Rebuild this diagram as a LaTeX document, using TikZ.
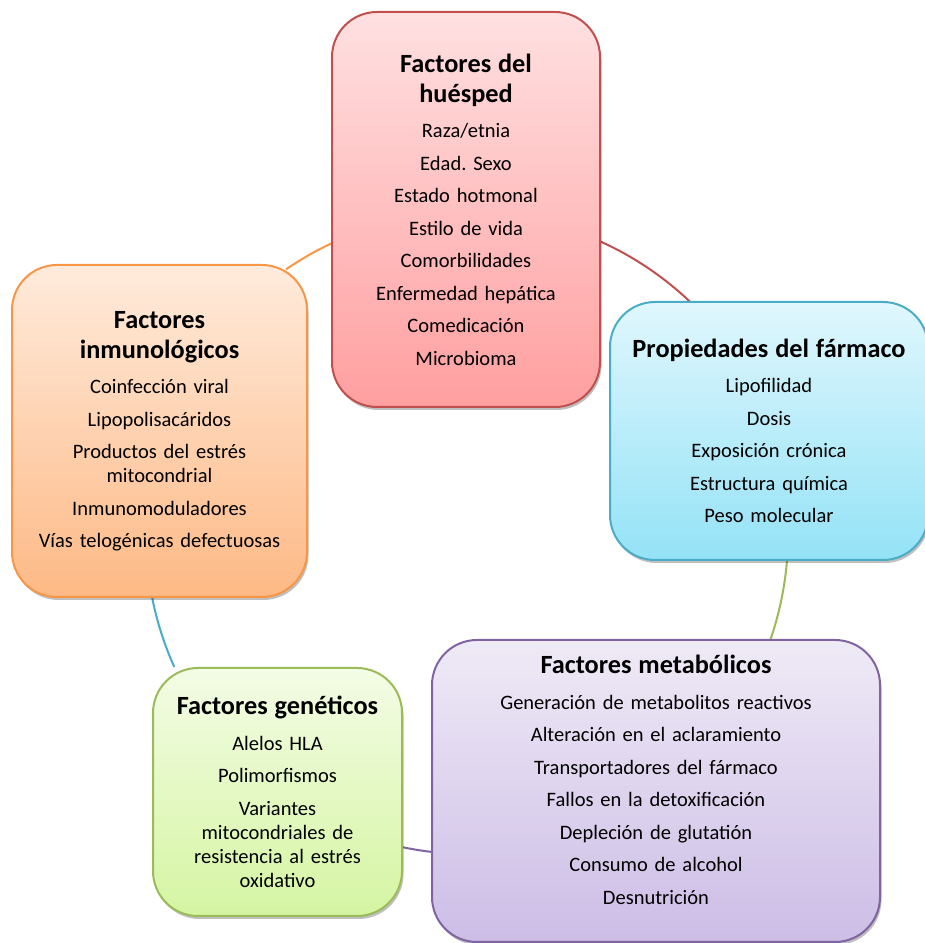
\documentclass[tikz,border=0pt]{standalone}
\usepackage{fontspec}
\setmainfont{Carlito}
\usetikzlibrary{shadows,calc}
\frenchspacing
\definecolor{redB}{HTML}{C0504D}\definecolor{redT}{HTML}{FFE0E1}\definecolor{redD}{HTML}{FF9FA0}
\definecolor{bluB}{HTML}{4BACC6}\definecolor{bluT}{HTML}{E0F7FD}\definecolor{bluD}{HTML}{94E2F6}
\definecolor{purB}{HTML}{8064A2}\definecolor{purT}{HTML}{EFEAF6}\definecolor{purD}{HTML}{CCBDE6}
\definecolor{grnB}{HTML}{9BBB59}\definecolor{grnT}{HTML}{F3FCE5}\definecolor{grnD}{HTML}{D5F5A2}
\definecolor{orgB}{HTML}{F79646}\definecolor{orgT}{HTML}{FFEBDC}\definecolor{orgD}{HTML}{FDB985}
\newcommand{\myboxtitle}[1]{{\fontsize{26.3}{30}\selectfont\bfseries #1\par}\vspace{11.5pt}}
\newcommand{\myitemgap}{\\[8.5pt]}
\tikzset{
  box/.style n args={2}{draw=#1B, line width=2pt, rounded corners=45pt, top color=#1T, bottom color=#1D,
    align=center, inner sep=0pt, text width=#2, font=\fontsize{20.5}{24}\selectfont,
    drop shadow={shadow xshift=1.5pt, shadow yshift=-3pt, opacity=0.25, fill=black}},
  link/.style={line width=2pt}
}
\begin{document}
\begin{tikzpicture}[x=1pt,y=1pt]
\useasboundingbox (0,0) rectangle (925,943);
\coordinate (ctr) at (468,408);
% connectors
\coordinate (a1) at ($(ctr)+(124.4:322)$);
\coordinate (a2) at ($(ctr)+(65.9:322)$);
\coordinate (a3) at ($(ctr)+(-4.7:320)$);
\coordinate (a4) at ($(ctr)+(-96.5:319)$);
\coordinate (a5) at ($(ctr)+(204.2:322)$);
\draw[link, orgB] (a1) arc[start angle=124.4, end angle=112, radius=322];
\draw[link, redB] (a2) arc[start angle=65.9, end angle=44, radius=322];
\draw[link, grnB] (a3) arc[start angle=-4.7, end angle=-21, radius=320];
\draw[link, purB] (a4) arc[start angle=-96.5, end angle=-104, radius=319];
\draw[link, bluB] (a5) arc[start angle=204.2, end angle=189, radius=322];
% boxes
\node[box={red}{260pt}, minimum width=268pt, minimum height=395pt] (host) at (466,733.5) {\myboxtitle{Factores del\\huésped}Raza/etnia\myitemgap Edad. Sexo\myitemgap Estado hotmonal\myitemgap Estilo de vida\myitemgap Comorbilidades\myitemgap Enfermedad hepática\myitemgap Comedicación\myitemgap Microbioma};
\node[box={blu}{306pt}, minimum width=318pt, minimum height=258pt] (drug) at (769,512) {\myboxtitle{Propiedades del fármaco}Lipofilidad\myitemgap Dosis\myitemgap Exposición crónica\myitemgap Estructura química\myitemgap Peso molecular};
\node[box={pur}{440pt}, minimum width=448pt, minimum height=302pt] (meta) at (656,152) {\myboxtitle{Factores metabólicos}Generación de metabolitos reactivos\myitemgap Alteración en el aclaramiento\myitemgap Transportadores del fármaco\myitemgap Fallos en la detoxificación\myitemgap Depleción de glutatión\myitemgap Consumo de alcohol\myitemgap Desnutrición\par\nointerlineskip\vbox to 22pt{}};
\node[box={grn}{241pt}, minimum width=249pt, minimum height=248pt] (gen) at (277.5,151) {\myboxtitle{Factores genéticos}Alelos HLA\myitemgap Polimorfismos\myitemgap Variantes\\mitocondriales de\\resistencia al estrés\\oxidativo};
\node[box={org}{287pt}, minimum width=295pt, minimum height=332pt] (imm) at (159.5,512) {\myboxtitle{Factores\\inmunológicos}Coinfección viral\myitemgap Lipopolisacáridos\myitemgap Productos del estrés\\mitocondrial\myitemgap Inmunomoduladores\myitemgap Vías telogénicas defectuosas};
\end{tikzpicture}
\end{document}
